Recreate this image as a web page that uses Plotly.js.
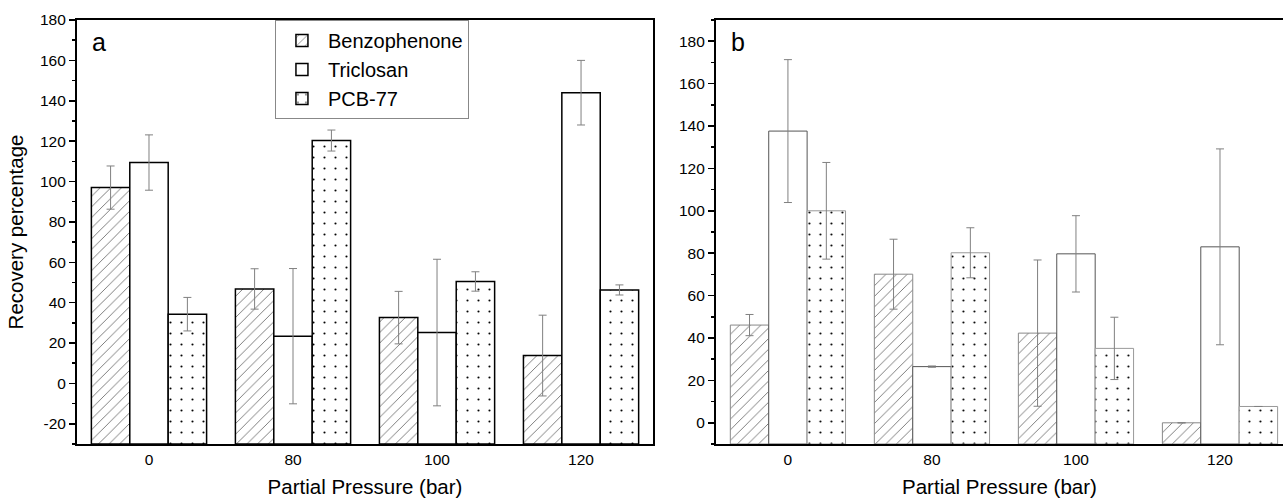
<!DOCTYPE html>
<html>
<head>
<meta charset="utf-8">
<script src="https://cdn.plot.ly/plotly-3.0.1.min.js"></script>
<style>html,body{margin:0;padding:0;background:#fff;}#chart{width:1283px;height:502px;}</style>
</head>
<body>
<div id="chart"></div>
<script>
// Categories (partial pressure, bar)
const categories = ['0', '80', '100', '120'];
const seriesNames = ['Benzophenone', 'Triclosan', 'PCB-77'];

// Panel a: recovery percentages and error (±)
const benzoA = [97.0, 46.8, 32.6, 13.8];
const benzoAErr = [10.7, 10.0, 13.0, 20.0];
const tricloA = [109.4, 23.4, 25.2, 144.0];
const tricloAErr = [13.7, 33.5, 36.3, 16.0];
const pcbA = [34.3, 120.3, 50.5, 46.3];
const pcbAErr = [8.3, 5.2, 4.8, 2.5];

// Panel b
const benzoB = [46.1, 70.1, 42.3, 0.0];
const benzoBErr = [5.0, 16.5, 34.5, 0.0];
const tricloB = [137.6, 26.5, 79.7, 83.0];
const tricloBErr = [33.7, 0.3, 18.0, 46.2];
const pcbB = [100.0, 80.2, 35.1, 7.7];
const pcbBErr = [22.8, 11.8, 14.7, 0.0];

// Tick values
const yTicksA = [-20, 0, 20, 40, 60, 80, 100, 120, 140, 160, 180];
const yTicksB = [0, 20, 40, 60, 80, 100, 120, 140, 160, 180];

const BASE_A = -30;
const BASE_B = -10;

const FONT = 'Arial, "Liberation Sans", sans-serif';

function patternFor(i) {
  if (i === 0) return {shape: '/', fgcolor: '#555', bgcolor: 'white', size: 7.5, solidity: 0.1};
  if (i === 2) return {shape: '.', fgcolor: '#000', bgcolor: 'white', size: 11, solidity: 0.03};
  return {shape: '', bgcolor: 'white'};
}

function makeTrace(i, vals, errs, base, xa, ya, lineColor, lineWidth, showlegend) {
  return {
    type: 'bar',
    name: seriesNames[i],
    x: categories,
    y: vals.map(v => v - base),
    base: base,
    xaxis: xa, yaxis: ya,
    showlegend: showlegend,
    legendgroup: seriesNames[i],
    marker: {
      color: 'white',
      line: {color: lineColor, width: lineWidth},
      pattern: patternFor(i)
    },
    error_y: {type: 'data', array: errs, visible: errs.some(e => e > 0), color: '#808080', thickness: 1, width: 4}
  };
}

const traces = [
  makeTrace(0, benzoA, benzoAErr, BASE_A, 'x', 'y', '#000', 1.5, true),
  makeTrace(1, tricloA, tricloAErr, BASE_A, 'x', 'y', '#000', 1.5, true),
  makeTrace(2, pcbA, pcbAErr, BASE_A, 'x', 'y', '#000', 1.5, true),
  makeTrace(0, benzoB, benzoBErr, BASE_B, 'x2', 'y2', '#888', 1, false),
  makeTrace(1, tricloB, tricloBErr, BASE_B, 'x2', 'y2', '#555', 1, false),
  makeTrace(2, pcbB, pcbBErr, BASE_B, 'x2', 'y2', '#999', 1, false)
];

const tickFont = {family: FONT, size: 15.5, color: '#000'};
const titleFont = {family: FONT, size: 20.5, color: '#000'};

const layout = {
  width: 1283, height: 502,
  margin: {l: 0, r: 0, t: 20, b: 58},
  paper_bgcolor: 'white', plot_bgcolor: 'white',
  barmode: 'group', bargap: 0.2, bargroupgap: 0,
  font: {family: FONT, color: '#000'},
  xaxis: {
    domain: [0.06, 0.509], type: 'category', range: [-0.5, 3.5],
    showline: true, mirror: true, linecolor: '#000', linewidth: 2,
    ticks: '', tickfont: tickFont, showgrid: false, zeroline: false,
    title: {text: 'Partial Pressure (bar)', font: titleFont, standoff: 13},
    anchor: 'y', fixedrange: true
  },
  yaxis: {
    domain: [0, 1], range: [-30, 180],
    tickmode: 'array', tickvals: yTicksA, ticktext: yTicksA.map(String),
    showline: true, mirror: true, linecolor: '#000', linewidth: 2,
    ticks: 'outside', ticklen: 6, tickwidth: 1.5, tickcolor: '#000',
    minor: {dtick: 10, tick0: 0, ticks: 'outside', ticklen: 3, tickwidth: 1.5, tickcolor: '#000'},
    tickfont: tickFont, showgrid: false, zeroline: false,
    title: {text: 'Recovery percentage', font: titleFont, standoff: 11},
    anchor: 'x', fixedrange: true
  },
  xaxis2: {
    domain: [0.558, 1], type: 'category', range: [-0.5, 3.4375],
    showline: true, mirror: true, linecolor: '#000', linewidth: 2,
    ticks: '', tickfont: tickFont, showgrid: false, zeroline: false,
    title: {text: 'Partial Pressure (bar)', font: titleFont, standoff: 13},
    anchor: 'y2', fixedrange: true
  },
  yaxis2: {
    domain: [0, 1], range: [-10, 190],
    tickmode: 'array', tickvals: yTicksB, ticktext: yTicksB.map(String),
    showline: true, mirror: false, linecolor: '#000', linewidth: 2,
    ticks: 'outside', ticklen: 6, tickwidth: 1.5, tickcolor: '#000',
    minor: {dtick: 10, tick0: 0, ticks: 'outside', ticklen: 3, tickwidth: 1.5, tickcolor: '#000'},
    tickfont: tickFont, showgrid: false, zeroline: false,
    anchor: 'x2', fixedrange: true
  },
  legend: {
    x: 0.2143, y: 1, xanchor: 'left', yanchor: 'top',
    bgcolor: 'white', bordercolor: '#888', borderwidth: 1,
    font: {family: FONT, size: 20, color: '#000'},
    traceorder: 'normal', tracegroupgap: 0,
    itemwidth: 42
  },
  annotations: [
    {text: 'a', xref: 'paper', yref: 'paper', x: 0.0705, y: 0.948, xanchor: 'left', yanchor: 'middle', showarrow: false, font: {family: FONT, size: 25, color: '#000'}},
    {text: 'b', xref: 'paper', yref: 'paper', x: 0.568, y: 0.948, xanchor: 'left', yanchor: 'middle', showarrow: false, font: {family: FONT, size: 25, color: '#000'}}
  ]
};

Plotly.newPlot('chart', traces, layout, {displayModeBar: false, staticPlot: true});
</script>
</body>
</html>
